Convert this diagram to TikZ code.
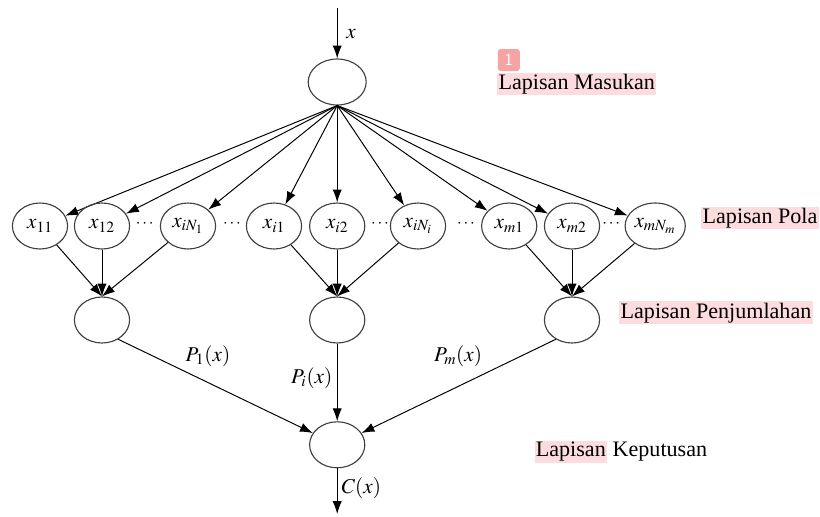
\documentclass[tikz,border=0pt]{standalone}
\usepackage{mathptmx}
\usepackage{fontspec}
\setmainfont{Liberation Serif}
\usetikzlibrary{arrows.meta,shapes.geometric}

\definecolor{pinkhl}{HTML}{FCDCDC}
\definecolor{badge}{HTML}{F5A3A3}

\tikzset{
  neuron/.style={ellipse, draw=black!75, line width=0.8pt, minimum width=1.38cm, minimum height=1.15cm, inner sep=0.5pt, font=\fontsize{15}{17}\selectfont},
  arr/.style={-{Latex[length=3.2mm,width=2.3mm]}, line width=0.7pt},
  layer/.style={fill=pinkhl, inner sep=1pt, font=\fontsize{15.7}{18}\selectfont},
  mlabel/.style={font=\fontsize{15}{17}\selectfont, inner sep=1pt},
}

\begin{document}
\begin{tikzpicture}
  \useasboundingbox (0,0) rectangle (20.5,-12.9);

  % input layer
  \coordinate (xin) at (8.43,-0.2);
  \node[neuron, minimum width=1.45cm] (in) at (8.43,-2.05) {};
  \draw[arr] (xin) -- (in.north);
  \node[mlabel] (xlab) at (8.78,-0.85) {$x$};

  % pattern layer
  \foreach \nm/\xx/\lab in {p11/1.0/x_{11}, p12/2.55/x_{12}, p1N/4.7/x_{iN_1},
                            pi1/6.85/x_{i1}, pi2/8.43/x_{i2}, piN/10.45/x_{iN_i},
                            pm1/12.73/x_{m1}, pm2/14.3/x_{m2}, pmN/16.38/x_{mN_m}} {
    \node[neuron] (\nm) at (\xx,-5.65) {$\lab$};
    \draw[arr] (in.south) -- (\nm);
  }
  \foreach \nm/\xx in {d1/3.62, d2/5.8, d3/9.5, d4/11.65, d5/15.28}
    \node[font=\fontsize{12}{14}\selectfont] (\nm) at (\xx,-5.6) {$\cdots$};

  % summation layer
  \foreach \nm/\xx in {s1/2.55, s2/8.43, s3/14.3}
    \node[neuron] (\nm) at (\xx,-8.0) {};
  \draw[arr] (p11) -- (s1.north);
  \draw[arr] (p12) -- (s1.north);
  \draw[arr] (p1N) -- (s1.north);
  \draw[arr] (pi1) -- (s2.north);
  \draw[arr] (pi2) -- (s2.north);
  \draw[arr] (piN) -- (s2.north);
  \draw[arr] (pm1) -- (s3.north);
  \draw[arr] (pm2) -- (s3.north);
  \draw[arr] (pmN) -- (s3.north);

  % decision layer
  \node[neuron] (dec) at (8.43,-11.12) {};
  \coordinate (xout) at (8.43,-12.85);
  \draw[arr] (s1.-50) -- (dec);
  \draw[arr] (s2) -- (dec);
  \draw[arr] (s3.-130) -- (dec);
  \draw[arr] (dec) -- (xout);

  \node[mlabel] (P1) at (5.2,-8.9) {$P_1(x)$};
  \node[mlabel, anchor=east] (Pi) at (8.35,-9.45) {$P_i(x)$};
  \node[mlabel] (Pm) at (11.45,-8.9) {$P_m(x)$};
  \node[mlabel, anchor=west] (Cx) at (8.5,-12.2) {$C(x)$};

  % layer names
  \node[fill=badge, text=white, rounded corners=2pt, minimum size=0.55cm, inner sep=0pt, font=\sffamily\fontsize{12}{14}\selectfont] (one) at (12.72,-1.5) {1};
  \node[layer] (masukan) at (14.42,-2.1) {Lapisan Masukan};
  \node[layer] (pola) at (19.0,-5.45) {Lapisan Pola};
  \node[layer] (jumlah) at (17.9,-7.82) {Lapisan Penjumlahan};
  \node[font=\fontsize{15.7}{18}\selectfont, inner sep=0pt] (putus) at (15.52,-11.3)
    {\setlength{\fboxsep}{1pt}\colorbox{pinkhl}{Lapisan} Keputusan};

\end{tikzpicture}
\end{document}
